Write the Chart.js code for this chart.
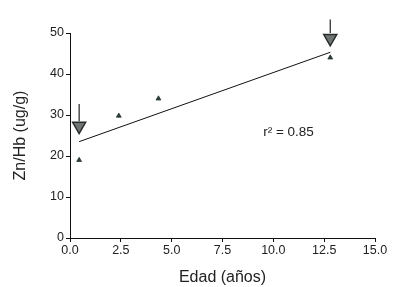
<!DOCTYPE html>
<html><head><meta charset="utf-8">
<script src="https://cdn.jsdelivr.net/npm/chart.js@4/dist/chart.umd.min.js"></script>
<style>html,body{margin:0;padding:0;background:#fff}#w{width:394px;height:287px}</style>
</head><body><div id="w"><canvas id="c" width="394" height="287"></canvas></div>
<script>
const ageX = [0.45, 2.4, 4.35, 12.8];
const znHb = [19.0, 29.8, 34.0, 44.0];
const fitX = [0.45, 12.8];
const fitY = [23.5, 45.3];
const arrowX = [0.45, 12.8];
const arrowTop = [32.7, 53.3];
const arrowShaftEnd = [28.5, 50.0];
const arrowHeadY = [27.3, 48.7];
const xTicks = [0, 2.5, 5, 7.5, 10, 12.5, 15];
const yTicks = [0, 10, 20, 30, 40, 50];
const r2Label = 'r² = 0.85';
const r2Pos = {x: 9.5, y: 25.9};

const FONT = '"Liberation Sans", Arial, sans-serif';
const shaftData = [];
arrowX.forEach((x,i)=>{ shaftData.push({x:x,y:arrowTop[i]},{x:x,y:arrowShaftEnd[i]},{x:NaN,y:NaN}); });

const textPlugin = {
  id:'r2text',
  afterDatasetsDraw(chart){
    const {ctx, scales:{x,y}} = chart;
    ctx.save();
    ctx.font = '13.5px ' + FONT;
    ctx.fillStyle = '#222';
    ctx.textBaseline = 'middle';
    ctx.fillText(r2Label, x.getPixelForValue(r2Pos.x), y.getPixelForValue(r2Pos.y));
    ctx.restore();
  }
};

new Chart(document.getElementById('c'), {
  type:'scatter',
  data:{datasets:[
    {type:'line', data: fitX.map((x,i)=>({x:x,y:fitY[i]})), borderColor:'#111', borderWidth:1, pointRadius:0, fill:false},
    {type:'line', data: shaftData, borderColor:'#333', borderWidth:1.3, pointRadius:0, spanGaps:false, fill:false, clip:false},
    {data: arrowX.map((x,i)=>({x:x,y:arrowHeadY[i]})), pointStyle:'triangle', rotation:180, pointRadius:7.5, backgroundColor:'#6f7572', borderColor:'#2a2d2c', borderWidth:1.5, clip:false},
    {data: ageX.map((x,i)=>({x:x,y:znHb[i]})), pointStyle:'triangle', pointRadius:2.8, backgroundColor:'#2a3a32', borderColor:'#2a3a32', borderWidth:0.8}
  ]},
  options:{
    animation:false, responsive:false, devicePixelRatio:1,
    layout:{padding:{top:33,right:19,left:0,bottom:0}},
    plugins:{legend:{display:false}, tooltip:{enabled:false}},
    scales:{
      x:{type:'linear', min:0, max:15,
        afterBuildTicks(s){ s.ticks = xTicks.map(v=>({value:v})); },
        afterFit(s){ s.height = 49; },
        border:{color:'#111', width:1},
        grid:{display:true, drawOnChartArea:false, drawTicks:true, tickLength:4, color:'#111'},
        ticks:{color:'#222', font:{family:FONT, size:12.5}, padding:1, maxRotation:0,
          callback:v=>Number(v).toFixed(1)},
        title:{display:true, text:'Edad (años)', color:'#222', font:{family:FONT, size:16}, padding:{top:5,bottom:0}}
      },
      y:{type:'linear', min:0, max:50,
        afterBuildTicks(s){ s.ticks = yTicks.map(v=>({value:v})); },
        afterFit(s){ s.width = 70; },
        border:{color:'#111', width:1},
        grid:{display:true, drawOnChartArea:false, drawTicks:true, tickLength:4, color:'#111'},
        ticks:{color:'#222', font:{family:FONT, size:12.5}, padding:2},
        title:{display:true, text:'Zn/Hb (ug/g)', color:'#222', font:{family:FONT, size:16}, padding:{top:11,bottom:0}}
      }
    }
  },
  plugins:[textPlugin]
});
</script></body></html>
